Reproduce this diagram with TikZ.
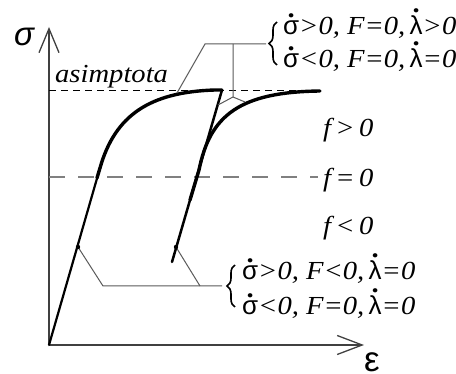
\documentclass[tikz,border=0pt]{standalone}
\usepackage{fontspec}
\setmainfont{Liberation Serif}[FakeStretch=1.1]
\newfontfamily\grk{Liberation Sans}
\usetikzlibrary{arrows.meta,decorations.pathreplacing}
\newcommand\dotover[1]{\leavevmode\setbox0=\hbox{#1}\rlap{\hbox to\wd0{\hss\raisebox{\dimexpr\ht0+0.14em\relax}{\normalfont\bfseries.}\hss}}\box0}
\newcommand\sd{\dotover{\grk\upshape σ}}
\newcommand\ld{\dotover{\grk\upshape λ}}
\begin{document}
\begin{tikzpicture}[x=1pt,y=-1pt,
  axis/.style={line width=1.3pt, draw=black!75},
  leader/.style={line width=1pt, draw=black!65},
  elastic/.style={line width=2.2pt, draw=black, line cap=round},
  plastic/.style={line width=3.4pt, draw=black, line cap=round, line join=round},
  cond/.style={font=\fontsize{26}{30}\selectfont\itshape, anchor=base west, inner sep=0pt},
  bracepath/.style={decorate, decoration={brace, amplitude=8pt}, line width=1.6pt},
  axlabel/.style={font=\grk\fontsize{33}{33}\selectfont, inner sep=0pt}
]
\useasboundingbox (0,0) rectangle (456,374);
% axes
\coordinate (O) at (49,345);
\coordinate (Ytop) at (49,27);
\coordinate (Xend) at (364,345);
\draw[axis, -{Straight Barb[length=24pt,width=20pt]}] (O) -- (Ytop);
\draw[axis, -{Straight Barb[length=25pt,width=19pt]}] (O) -- (Xend);
\node[axlabel, font=\grk\itshape\fontsize{33}{33}\selectfont] (sig) at (24,37) {σ};
\node[axlabel, font=\grk\fontsize{35}{35}\selectfont] (eps) at (372,362) {ε};
% reference lines
\coordinate (A1) at (49,90);
\coordinate (A2) at (312,90);
\coordinate (F1) at (49,177);
\coordinate (F2) at (318,177);
\draw[black, line width=0.9pt, dash pattern=on 7pt off 5pt] (A1) -- (A2);
\draw[black!50, line width=2pt, dash pattern=on 16pt off 13pt] (F1) -- (F2);
% curves
\coordinate (P1) at (100,168);
\coordinate (Pk) at (222,90);
\coordinate (U1) at (172,262);
\coordinate (R0) at (199,170);
\coordinate (R1) at (320,91);
\draw[elastic] (O) -- (P1);
\draw[plastic] (97,178) -- (P1) .. controls (115,115) and (150,92) .. (215,90) -- (Pk);
\draw[line width=2.5pt, line cap=round, line join=round] (Pk) -- (U1);
\draw[plastic] (190,200) -- (R0) .. controls (210,115) and (240,92) .. (R1);
% leaders
\coordinate (T0) at (177,93);
\coordinate (T1) at (205,44);
\coordinate (T2) at (266,44);
\coordinate (T3) at (233,44);
\coordinate (T4) at (233,97);
\coordinate (T5) at (218,105);
\coordinate (T6) at (245,102);
\draw[leader] (T0) -- (T1) -- (T2);
\draw[leader] (T3) -- (T4) -- (T5);
\draw[leader] (T4) -- (T6);
\coordinate (D1) at (78,247);
\coordinate (D2) at (176,247);
\coordinate (B1) at (103,286);
\coordinate (B2) at (222,286);
\coordinate (B3) at (200,286);
\draw[leader] (D1) -- (B1) -- (B2);
\draw[leader] (D2) -- (B3);
\fill (D1) circle (2.2pt);
\fill (D2) circle (2.2pt);
% braces
\coordinate (BrA1) at (277,65);
\coordinate (BrA2) at (277,22);
\coordinate (BrB1) at (235,307);
\coordinate (BrB2) at (235,265);
\draw[bracepath] (BrA1) -- (BrA2);
\draw[bracepath] (BrB1) -- (BrB2);
% texts
\node[cond] (asym) at (55,83) {asimptota};
\node[cond] (fp) at (323,137) {f\,>\,0};
\node[cond] (fz) at (323,187) {f\,=\,0};
\node[cond] (fn) at (323,235) {f\,<\,0};
\node[cond] (c1) at (283,35) {\sd>0, F=0,\,\ld>0};
\node[cond] (c2) at (283,68) {\sd<0, F=0,\,\ld=0};
\node[cond] (c3) at (242,280) {\sd>0, F<0,\,\ld=0};
\node[cond] (c4) at (242,315) {\sd<0, F=0,\,\ld=0};
\end{tikzpicture}
\end{document}
